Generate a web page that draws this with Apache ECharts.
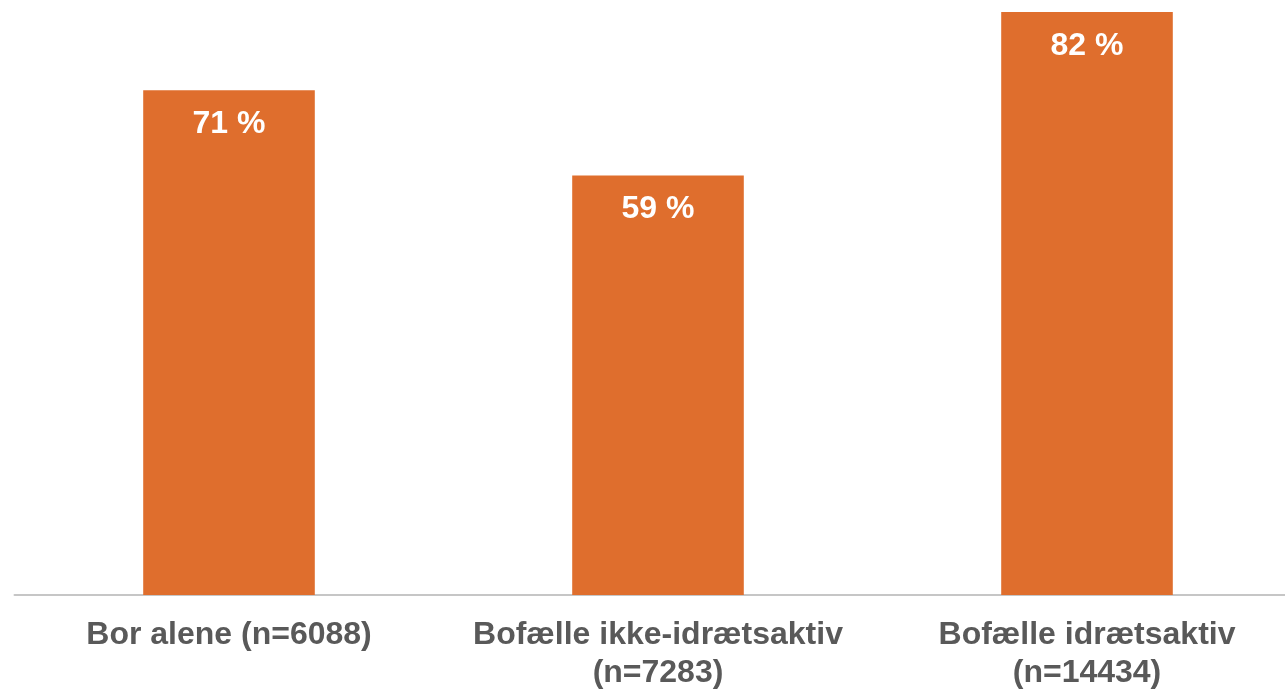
<!DOCTYPE html>
<html>
<head>
<meta charset="utf-8">
<script src="https://cdn.jsdelivr.net/npm/echarts@6/dist/echarts.min.js"></script>
<style>
  html, body { margin: 0; padding: 0; background: #fff; }
  #chart { width: 1285px; height: 689px; }
</style>
</head>
<body>
<div id="chart"></div>
<script>
// data
const categories = ['Bor alene (n=6088)', 'Bofælle ikke-idrætsaktiv\n(n=7283)', 'Bofælle idrætsaktiv\n(n=14434)'];
const shares = [71, 59, 82];

const chart = echarts.init(document.getElementById('chart'));

chart.setOption({
  animation: false,
  grid: { left: 14.5, right: -16.5, top: 12, bottom: 94, outerBoundsMode: 'none', containLabel: false },
  xAxis: {
    type: 'category',
    data: categories,
    axisLine: { lineStyle: { color: '#c6c6c6', width: 2 } },
    axisTick: { show: false },
    axisLabel: {
      interval: 0,
      margin: 21,
      color: '#595959',
      fontFamily: 'Liberation Sans, Arial, sans-serif',
      fontWeight: 'bold',
      fontSize: 32,
      lineHeight: 38
    }
  },
  yAxis: {
    type: 'value',
    min: 0,
    max: 'dataMax',
    show: false,
    splitLine: { show: false }
  },
  series: [{
    type: 'bar',
    data: shares,
    barWidth: '40%',
    itemStyle: { color: '#df6e2d' },
    label: {
      show: true,
      position: 'insideTop',
      distance: 18,
      formatter: '{c} %',
      color: '#fff',
      fontFamily: 'Liberation Sans, Arial, sans-serif',
      fontWeight: 'bold',
      fontSize: 32,
      lineHeight: 32
    }
  }]
});
</script>
</body>
</html>
